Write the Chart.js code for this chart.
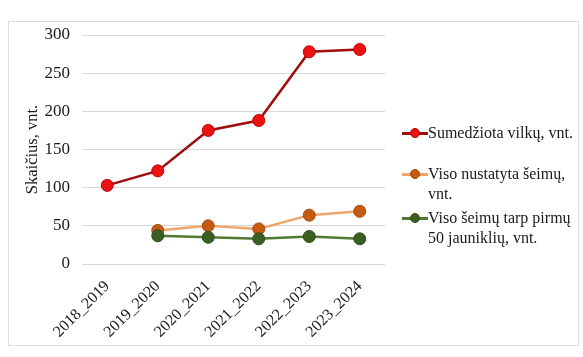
<!DOCTYPE html>
<html><head><meta charset="utf-8">
<script src="https://cdn.jsdelivr.net/npm/chart.js@4/dist/chart.umd.min.js"></script>
<style>
html,body{margin:0;padding:0;background:#fff;}
#wrap{position:relative;width:583px;height:357px;}
#frame{position:absolute;left:8px;top:21px;width:571px;height:325px;border:1px solid #dcdcdc;box-sizing:border-box;}
canvas{position:absolute;left:0;top:0;}
.leg{position:absolute;left:402px;font-family:"Liberation Serif",serif;font-size:16px;line-height:20px;color:#1a1a1a;}
.leg .txt{position:absolute;left:26px;top:0;white-space:nowrap;}
.leg .ln{position:absolute;left:0;top:9px;width:26px;height:3px;}
.leg .dot{position:absolute;left:8px;top:5px;width:10px;height:10px;border-radius:50%;box-sizing:border-box;border:1px solid;}
</style></head>
<body><div id="wrap"><div id="frame"></div><canvas id="c" width="583" height="357"></canvas>
<div id="legend"></div></div>
<script>
const categories = ["2018_2019","2019_2020","2020_2021","2021_2022","2022_2023","2023_2024"];
const seriesNames = ["Sumedžiota vilkų, vnt.","Viso nustatyta šeimų, vnt.","Viso šeimų tarp pirmų 50 jauniklių, vnt."];
const wolvesHunted = [103,122,175,188,278,281];
const familiesTotal = [null,44,50,46,64,69];
const familiesFirst50 = [null,37,35,33,36,33];
const yTicks = [0,50,100,150,200,250,300];
const yTitle = "Skaičius, vnt.";

const styles = [
  {line:"#a00d0d", fill:"#ee1111", border:"#c00000"},
  {line:"#f0a56a", fill:"#c55a11", border:"#a84a0c"},
  {line:"#4f7a2f", fill:"#3a5f22", border:"#2f4d1b"}
];
const seriesData = [wolvesHunted, familiesTotal, familiesFirst50];

const FONT = '"Liberation Serif", serif';
new Chart(document.getElementById('c'), {
  type: 'line',
  data: {
    labels: categories,
    datasets: seriesData.map((d,i)=>({
      label: seriesNames[i], data: d,
      borderColor: styles[i].line, borderWidth: 2.5,
      pointBackgroundColor: styles[i].fill, pointBorderColor: styles[i].border,
      pointBorderWidth: 1, pointRadius: 6, pointHoverRadius: 6,
      tension: 0, spanGaps: false
    })).reverse()
  },
  options: {
    responsive: false, animation: false,
    layout: {padding: {left: 0, top: 35, right: 198, bottom: 0}},
    plugins: {legend: {display: false}, tooltip: {enabled: false}},
    scales: {
      x: {
        offset: true,
        grid: {display: false},
        border: {display: false},
        ticks: {minRotation: 45, maxRotation: 45, padding: 5, color: '#1a1a1a', font: {family: FONT, size: 16}},
        afterFit: s => { s.height = 93; }
      },
      y: {
        min: 0, max: 300,
        afterBuildTicks: s => { s.ticks = yTicks.map(v=>({value:v})); },
        grid: {color: '#d9d9d9', lineWidth: 1, drawTicks: false},
        border: {display: false},
        ticks: {padding: 12, color: '#1a1a1a', font: {family: FONT, size: 17}},
        title: {display: true, text: yTitle, color: '#1a1a1a', font: {family: FONT, size: 16.5}, padding: {top: 23, bottom: 0}},
        afterFit: s => { s.width = 82; }
      }
    }
  }
});

const legendTops = [123, 164, 208];
const lg = document.getElementById('legend');
const legendLines = [["Sumedžiota vilkų, vnt."],["Viso nustatyta šeimų,","vnt."],["Viso šeimų tarp pirmų","50 jauniklių, vnt."]];
legendLines.forEach((lines,i)=>{
  const d = document.createElement('div');
  d.className = 'leg'; d.style.top = legendTops[i] + 'px';
  d.innerHTML = `<div class="ln" style="background:${styles[i].line}"></div><div class="dot" style="background:${styles[i].fill};border-color:${styles[i].border}"></div><div class="txt">${lines.join('<br>')}</div>`;
  lg.appendChild(d);
});
</script></body></html>
